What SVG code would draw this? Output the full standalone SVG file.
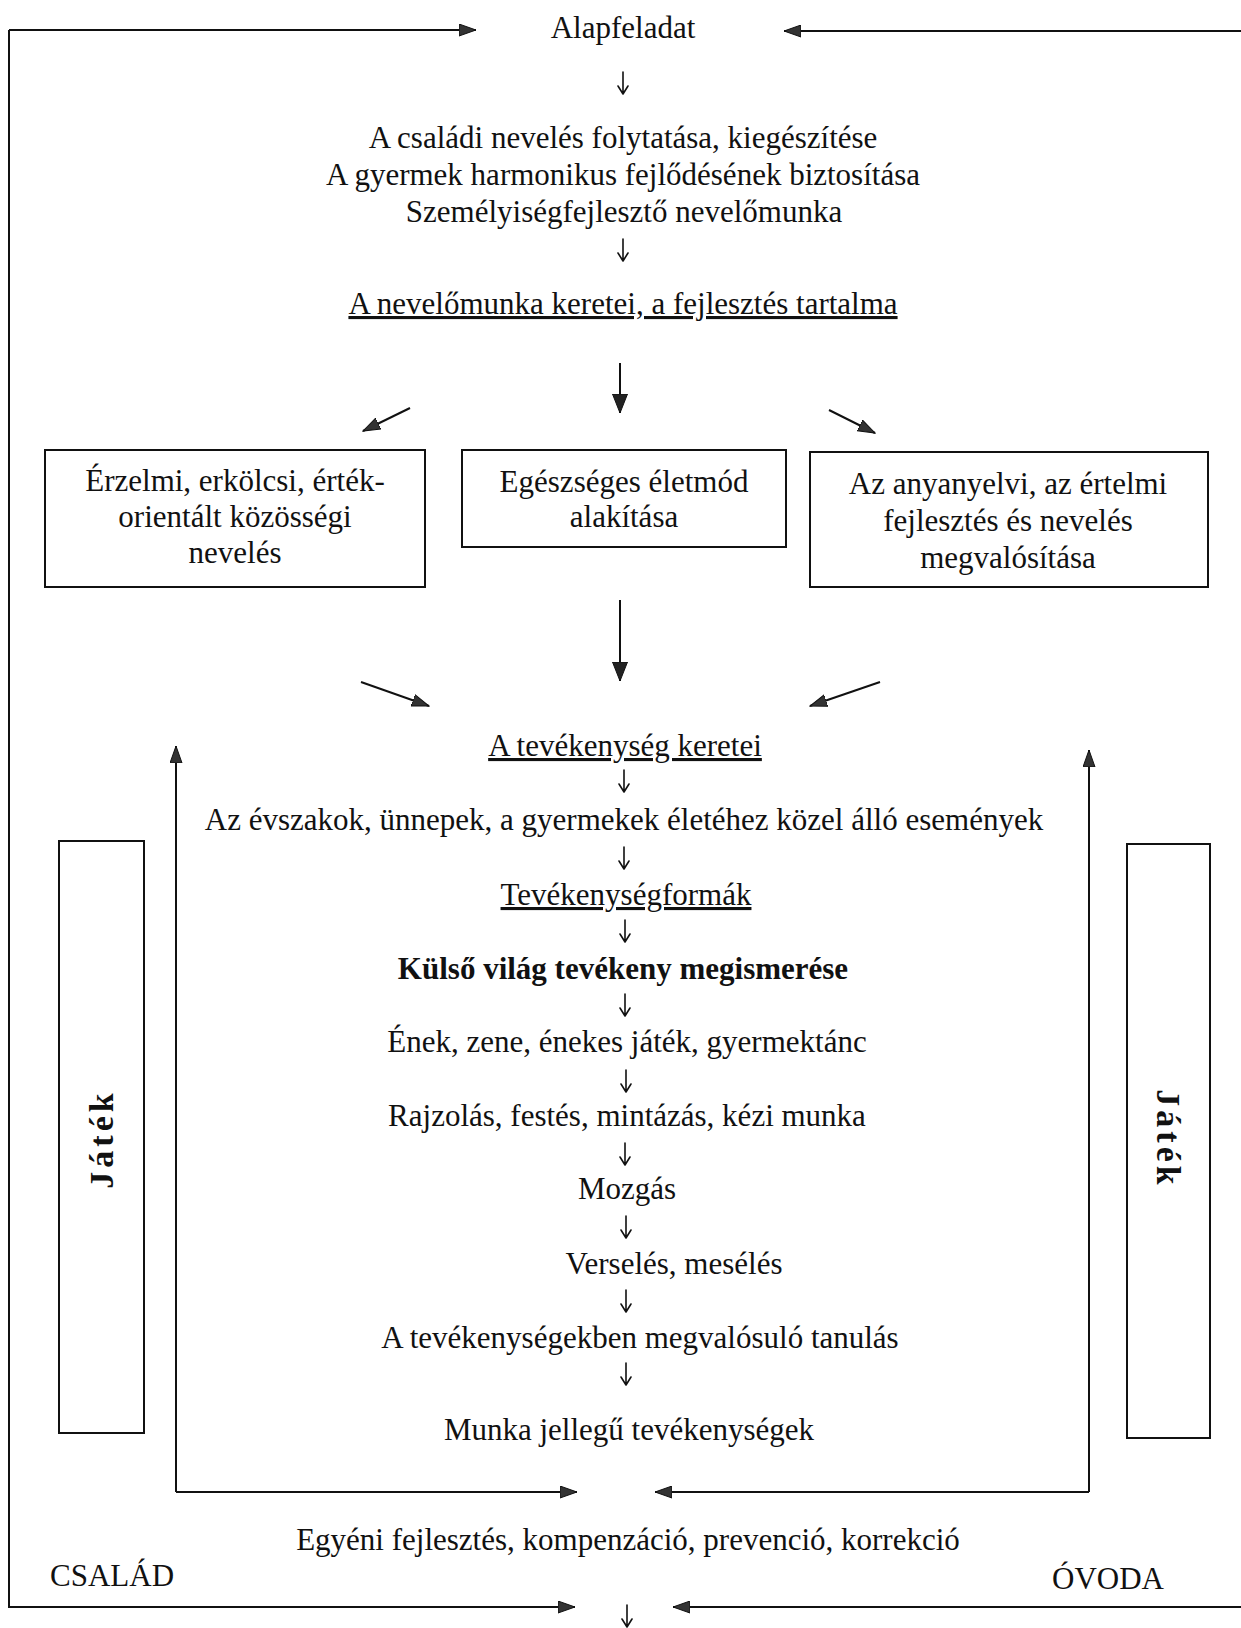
<svg xmlns="http://www.w3.org/2000/svg" width="1241" height="1628" viewBox="0 0 1241 1628">
<style>
  .t { font-family: "Liberation Serif", "Times New Roman", serif; font-size: 31px; fill: #111; text-anchor: middle; }
  .b { font-weight: bold; }
  .u { text-decoration: underline; }
  .box { fill: none; stroke: #111; stroke-width: 2; }
  .ln { fill: none; stroke: #111; stroke-width: 2; }
  .sa { fill: none; stroke: #111; stroke-width: 1.6; stroke-linecap: round; stroke-linejoin: round; }
  .vj { font-family: "Liberation Serif", "Times New Roman", serif; font-size: 34px; font-weight: bold; fill: #111; letter-spacing: 4px; text-anchor: middle; }
</style>
<defs>
  <marker id="ah" markerUnits="userSpaceOnUse" markerWidth="18" markerHeight="13" refX="17" refY="6.5" orient="auto">
    <path d="M0,0.5 L17,6.5 L0,12.5 Z" fill="#333" stroke="#111" stroke-width="1"/>
  </marker>
  <marker id="ahb" markerUnits="userSpaceOnUse" markerWidth="20" markerHeight="16" refX="19" refY="8" orient="auto">
    <path d="M0,0.5 L19,8 L0,15.5 Z" fill="#222" stroke="#111" stroke-width="1"/>
  </marker>
</defs>

<g id="connectors">
  <!-- outer frame -->
  <path class="ln" d="M9,30 L9,1607 L575,1607" marker-end="url(#ah)"/>
  <path class="ln" d="M9,30 L476,30" marker-end="url(#ah)"/>
  <path class="ln" d="M1241,31 L784,31" marker-end="url(#ah)"/>
  <path class="ln" d="M1241,1607 L673,1607" marker-end="url(#ah)"/>
  <!-- inner frame -->
  <path class="ln" d="M176,1492 L176,746" marker-end="url(#ah)"/>
  <path class="ln" d="M176,1492 L577,1492" marker-end="url(#ah)"/>
  <path class="ln" d="M1089,1492 L1089,750" marker-end="url(#ah)"/>
  <path class="ln" d="M1089,1492 L655,1492" marker-end="url(#ah)"/>
  <!-- big vertical arrows -->
  <path class="ln" d="M620,363 L620,413" marker-end="url(#ahb)"/>
  <path class="ln" d="M620,600 L620,681" marker-end="url(#ahb)"/>
  <!-- diagonal arrows -->
  <path class="ln" d="M410,408 L363,431" marker-end="url(#ah)"/>
  <path class="ln" d="M829,410 L875,433" marker-end="url(#ah)"/>
  <path class="ln" d="M361,682 L429,706" marker-end="url(#ah)"/>
  <path class="ln" d="M880,682 L810,706" marker-end="url(#ah)"/>
  <!-- small arrows -->
  <path class="sa" d="M623,72 L623,94 M618,86 L623,94 L628,86"/>
  <path class="sa" d="M623,239 L623,261 M618,253 L623,261 L628,253"/>
  <path class="sa" d="M624,770 L624,792 M619,784 L624,792 L629,784"/>
  <path class="sa" d="M624,847 L624,869 M619,861 L624,869 L629,861"/>
  <path class="sa" d="M625,920 L625,942 M620,934 L625,942 L630,934"/>
  <path class="sa" d="M625,994 L625,1016 M620,1008 L625,1016 L630,1008"/>
  <path class="sa" d="M626,1070 L626,1092 M621,1084 L626,1092 L631,1084"/>
  <path class="sa" d="M625,1143 L625,1165 M620,1157 L625,1165 L630,1157"/>
  <path class="sa" d="M626,1216 L626,1238 M621,1230 L626,1238 L631,1230"/>
  <path class="sa" d="M626,1290 L626,1312 M621,1304 L626,1312 L631,1304"/>
  <path class="sa" d="M626,1363 L626,1385 M621,1377 L626,1385 L631,1377"/>
  <path class="sa" d="M627,1605 L627,1627 M622,1619 L627,1627 L632,1619"/>
</g>

<g id="n-alapfeladat"><text class="t" x="623" y="38">Alapfeladat</text></g>
<g id="n-csaladi">
  <text class="t" x="623" y="148">A családi nevelés folytatása, kiegészítése</text>
  <text class="t" x="623" y="185">A gyermek harmonikus fejlődésének biztosítása</text>
  <text class="t" x="624" y="222">Személyiségfejlesztő nevelőmunka</text>
</g>
<g id="n-keretei"><text class="t u" x="623" y="314">A nevelőmunka keretei, a fejlesztés tartalma</text></g>

<g id="n-erzelmi">
  <rect class="box" x="45" y="450" width="380" height="137"/>
  <text class="t" x="235" y="491">Érzelmi, erkölcsi, érték-</text>
  <text class="t" x="235" y="527">orientált közösségi</text>
  <text class="t" x="235" y="563">nevelés</text>
</g>
<g id="n-egeszseges">
  <rect class="box" x="462" y="450" width="324" height="97"/>
  <text class="t" x="624" y="492">Egészséges életmód</text>
  <text class="t" x="624" y="527">alakítása</text>
</g>
<g id="n-anyanyelvi">
  <rect class="box" x="810" y="452" width="398" height="135"/>
  <text class="t" x="1008" y="494">Az anyanyelvi, az értelmi</text>
  <text class="t" x="1008" y="531">fejlesztés és nevelés</text>
  <text class="t" x="1008" y="568">megvalósítása</text>
</g>

<g id="n-tevekenyseg-keretei"><text class="t u" x="625" y="756">A tevékenység keretei</text></g>
<g id="n-evszakok"><text class="t" x="624" y="830">Az évszakok, ünnepek, a gyermekek életéhez közel álló események</text></g>
<g id="n-tevekenysegformak"><text class="t u" x="626" y="905">Tevékenységformák</text></g>
<g id="n-kulso"><text class="t b" x="623" y="979">Külső világ tevékeny megismerése</text></g>
<g id="n-enek"><text class="t" x="627" y="1052">Ének, zene, énekes játék, gyermektánc</text></g>
<g id="n-rajzolas"><text class="t" x="627" y="1126">Rajzolás, festés, mintázás, kézi munka</text></g>
<g id="n-mozgas"><text class="t" x="627" y="1199">Mozgás</text></g>
<g id="n-verseles"><text class="t" x="674" y="1274">Verselés, mesélés</text></g>
<g id="n-tanulas"><text class="t" x="640" y="1348">A tevékenységekben megvalósuló tanulás</text></g>
<g id="n-munka"><text class="t" x="629" y="1440">Munka jellegű tevékenységek</text></g>
<g id="n-egyeni"><text class="t" x="628" y="1550">Egyéni fejlesztés, kompenzáció, prevenció, korrekció</text></g>
<g id="n-csalad"><text class="t" x="50" y="1586" style="text-anchor:start">CSALÁD</text></g>
<g id="n-ovoda"><text class="t" x="1052" y="1589" style="text-anchor:start">ÓVODA</text></g>

<g id="n-jatek-left">
  <rect class="box" x="59" y="841" width="85" height="592"/>
  <text class="vj" transform="translate(113,1139) rotate(-90)" x="0" y="0">Játék</text>
</g>
<g id="n-jatek-right">
  <rect class="box" x="1127" y="844" width="83" height="594"/>
  <text class="vj" transform="translate(1157,1139) rotate(90)" x="0" y="0">Játék</text>
</g>
</svg>
